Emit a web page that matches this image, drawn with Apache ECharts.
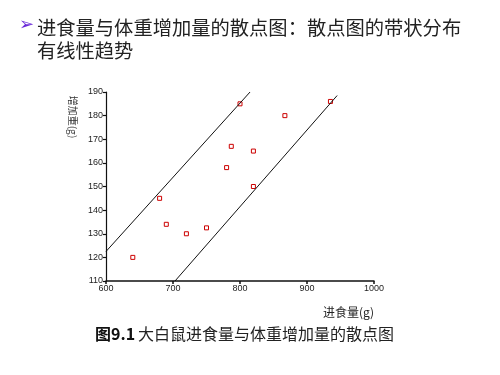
<!DOCTYPE html>
<html>
<head>
<meta charset="utf-8">
<script src="https://cdn.jsdelivr.net/npm/echarts@6/dist/echarts.min.js"></script>
<style>html,body{margin:0;padding:0;background:#fff}#c{width:500px;height:375px}</style>
</head>
<body>
<div id="c"></div>
<script>
var foodIntake = [640, 680, 690, 720, 750, 780, 787, 800, 820, 820, 867, 935];
var weightGain = [120, 145, 134, 130, 132.5, 158, 167, 185, 165, 150, 180, 186];
var upperBandX = [600, 815];
var upperBandY = [122.5, 190];
var lowerBandX = [703, 945];
var lowerBandY = [110, 188.5];
var xTicks = [600, 700, 800, 900, 1000];
var yTicks = [110, 120, 130, 140, 150, 160, 170, 180, 190];

function pairs(xs, ys) { return xs.map(function (x, i) { return [x, ys[i]]; }); }

var chart = echarts.init(document.getElementById('c'), null, { renderer: 'canvas' });
var cjk = '"Noto Sans CJK SC", sans-serif';
chart.setOption({
  animation: false,
  backgroundColor: '#fff',
  grid: { left: 106, right: 126, top: 92, bottom: 94, containLabel: false },
  xAxis: {
    type: 'value', min: xTicks[0], max: xTicks[xTicks.length - 1], interval: 100,
    name: '进食量(g)', nameLocation: 'end', nameGap: 0,
    nameTextStyle: { fontFamily: cjk, fontSize: 12, color: '#222', align: 'right', verticalAlign: 'top', padding: [25, 0, 0, 0] },
    axisLine: { lineStyle: { color: '#111', width: 1.5 } },
    axisTick: { show: true, length: 3, lineStyle: { color: '#111', width: 1.5 } },
    axisLabel: { margin: 3, fontFamily: 'Liberation Sans, Arial', fontSize: 9, color: '#222', formatter: function (v) { return String(v); } },
    splitLine: { show: false }
  },
  yAxis: {
    type: 'value', min: yTicks[0], max: yTicks[yTicks.length - 1], interval: 10,
    axisLine: { lineStyle: { color: '#111', width: 1.2 } },
    axisTick: { show: true, length: 3, lineStyle: { color: '#111', width: 1.2 } },
    axisLabel: { margin: 3, fontFamily: 'Liberation Sans, Arial', fontSize: 9, color: '#222', formatter: function (v) { return String(v); } },
    splitLine: { show: false }
  },
  series: [
    {
      type: 'line', data: pairs(upperBandX, upperBandY), showSymbol: false, symbol: 'none',
      lineStyle: { color: '#111', width: 1 }, silent: true
    },
    {
      type: 'line', data: pairs(lowerBandX, lowerBandY), showSymbol: false, symbol: 'none',
      lineStyle: { color: '#111', width: 1 }, silent: true
    },
    {
      type: 'scatter', data: pairs(foodIntake, weightGain), symbol: 'rect', symbolSize: 4,
      itemStyle: { color: '#fff', borderColor: '#cc0000', borderWidth: 1, opacity: 1 }
    }
  ],
  graphic: [
    { type: 'text', x: 73, y: 117, rotation: -Math.PI / 2, style: { text: '增加重(g)', fontFamily: cjk, fontSize: 10, fill: '#333', align: 'center', verticalAlign: 'middle' } },
    { type: 'text', left: 19, top: 16, style: { text: '➢', fontFamily: 'DejaVu Sans', fontSize: 18, fill: '#6a2ad8' } },
    { type: 'text', left: 37, top: 16, style: { text: '进食量与体重增加量的散点图：散点图的带状分布\n有线性趋势', fontFamily: cjk, fontSize: 19.3, lineHeight: 23, fill: '#222' } },
    { type: 'text', left: 95, top: 326, style: { text: '图9.1', fontFamily: cjk, fontWeight: 'bold', fontSize: 16, fill: '#111' } },
    { type: 'text', left: 138, top: 326, style: { text: '大白鼠进食量与体重增加量的散点图', fontFamily: cjk, fontSize: 16, fill: '#222' } }
  ]
});
</script>
</body>
</html>
